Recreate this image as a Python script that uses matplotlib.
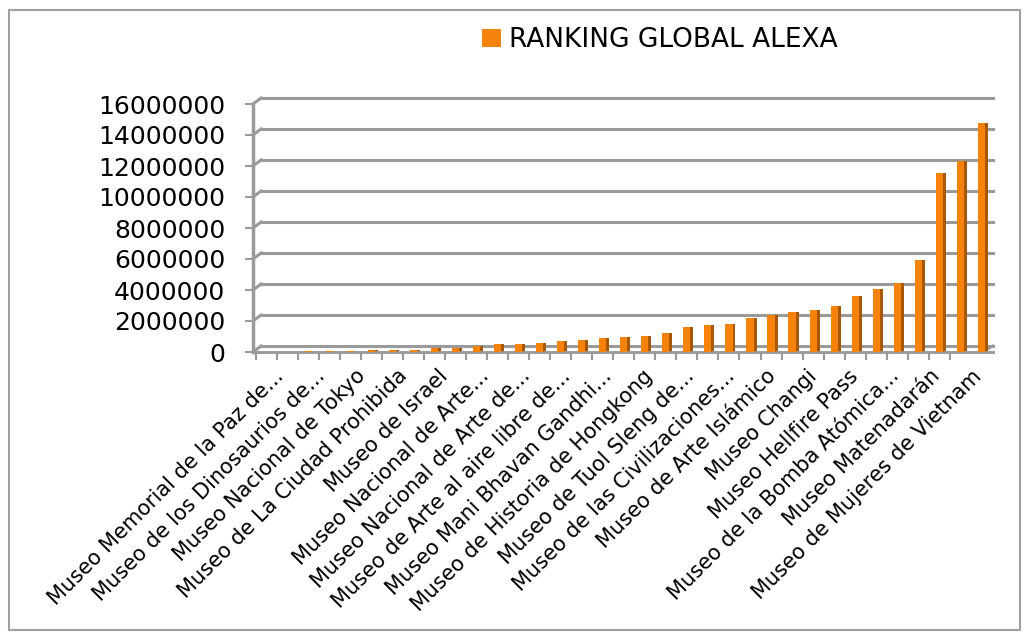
import matplotlib.pyplot as plt
from matplotlib.patches import Rectangle

# labels shown under every other bar (35 bars in total)
labels = [
    "Museo Memorial de la Paz de...",
    "Museo de los Dinosaurios de...",
    "Museo Nacional de Tokyo",
    "Museo de La Ciudad Prohibida",
    "Museo de Israel",
    "Museo Nacional de Arte...",
    "Museo Nacional de Arte de...",
    "Museo de Arte al aire libre de...",
    "Museo Mani Bhavan Gandhi...",
    "Museo de Historia de Hongkong",
    "Museo de Tuol Sleng de...",
    "Museo de las Civilizaciones...",
    "Museo de Arte Islámico",
    "Museo Changi",
    "Museo Hellfire Pass",
    "Museo de la Bomba Atómica...",
    "Museo Matenadarán",
    "Museo de Mujeres de Vietnam",
]
ranking = [
    20000, 30000, 40000, 50000, 70000, 100000, 120000, 150000, 250000,
    280000, 380000, 500000, 520000, 600000, 720000, 800000, 880000,
    1000000, 1050000, 1250000, 1600000, 1750000, 1780000, 2200000,
    2400000, 2600000, 2720000, 2980000, 3600000, 4050000, 4450000,
    5950000, 11550000, 12300000, 14750000,
]
yticks = list(range(0, 16000001, 2000000))

orange = "#F5820A"
orange_dark = "#A85800"
grid_c = "#9a9a9a"

fig = plt.figure(figsize=(10.27, 6.37), dpi=100)
fig.patches.append(Rectangle((9 / 1027, 7 / 637), 1011 / 1027, 620 / 637,
                             transform=fig.transFigure, fill=False,
                             edgecolor="#a0a0a0", linewidth=1.5))

ax = fig.add_axes([253 / 1027, 285 / 637, 740 / 1027, 248 / 637])
x = list(range(len(ranking)))

# back wall gridlines, shifted up/right like the 3D chart
dx, dy = 0.011, 390000
for v in yticks:
    ax.plot([0, dx], [v, v + dy], color=grid_c, lw=2.2, clip_on=False,
            transform=ax.get_yaxis_transform(), zorder=1)
    ax.plot([dx, 1.0], [v + dy, v + dy], color=grid_c, lw=2.2, clip_on=False,
            transform=ax.get_yaxis_transform(), zorder=1)
ax.plot([0, 1.0], [0, 0], color="#c8c8c8", lw=2, clip_on=False,
        transform=ax.get_yaxis_transform(), zorder=1)
ax.plot([0.985, 1.0], [0, dy], color=grid_c, lw=2, clip_on=False,
        transform=ax.get_yaxis_transform(), zorder=1)

bars = ax.bar(x, ranking, width=0.34, color=orange, zorder=3,
              label="RANKING GLOBAL ALEXA")
ax.bar([i + 0.24 for i in x], ranking, width=0.14, color=orange_dark,
       zorder=2)

ax.set_xlim(-0.62, 34.55)
ax.set_ylim(0, 16000000)
ax.set_yticks(yticks)
ax.set_yticklabels([str(v) for v in yticks], fontsize=18)
# labels drift left a little toward the right end, as in the 3D original
ax.set_xticks([i + 0.35 - 0.85 * i / 34 for i in x[::2]])
ax.set_xticklabels(labels, rotation=45, ha="right", va="top",
                   rotation_mode="anchor", fontsize=15)
ax.set_xticks([i + 0.5 for i in x[:-1]] + [-0.5], minor=True)
ax.tick_params(axis="x", which="major", length=0, pad=10)
ax.tick_params(axis="x", which="minor", length=6, color=grid_c, width=1.5)
ax.tick_params(axis="y", which="major", length=6, color=grid_c, width=1.5, pad=14)

for s in ["top", "right"]:
    ax.spines[s].set_visible(False)
ax.spines["left"].set_color(grid_c)
ax.spines["left"].set_linewidth(2.5)
ax.spines["bottom"].set_color(grid_c)
ax.spines["bottom"].set_linewidth(2)

fig.legend(handles=[bars], loc="center", bbox_to_anchor=(660 / 1027, 1 - 40 / 637),
           frameon=False, fontsize=19, handlelength=0.7, handleheight=0.7,
           handletextpad=0.3)

fig.savefig("out.png", dpi=100)
